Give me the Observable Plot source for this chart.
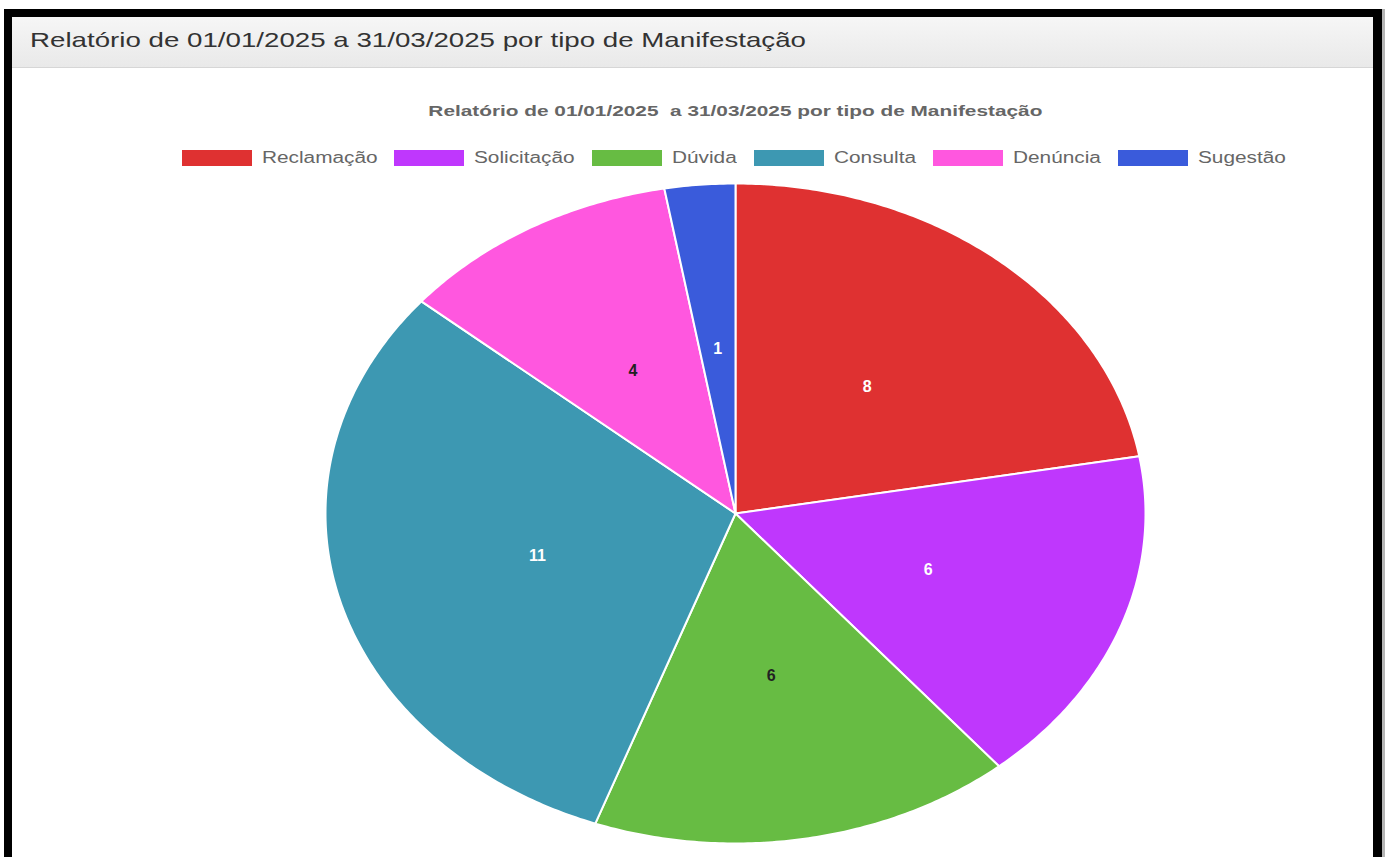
<!DOCTYPE html>
<html><head><meta charset="utf-8">
<script src="https://cdn.jsdelivr.net/npm/d3@7"></script>
<script src="https://cdn.jsdelivr.net/npm/@observablehq/plot@0.6"></script>
<style>
html,body{margin:0;padding:0;}
body{width:1385px;height:857px;overflow:hidden;position:relative;background:#fff;font-family:"Liberation Sans",Arial,Helvetica,sans-serif;}
#blk{position:absolute;left:4px;top:9px;width:1378px;height:900px;background:#000;}
#edge{position:absolute;left:1382px;top:9px;width:3px;height:900px;background:#b5b5b5;}
#inner{position:absolute;left:12px;top:17px;width:1361px;height:900px;background:#fff;}
#head{position:absolute;left:12px;top:17px;width:1361px;height:50px;background:linear-gradient(#f6f6f6,#e9e9e9);border-bottom:1px solid #d6d6d6;}
#headtxt{position:absolute;left:30px;top:27px;font-size:21px;color:#333;white-space:nowrap;transform-origin:0 50%;line-height:26px;}
#title{position:absolute;left:0;width:1470px;top:101px;text-align:center;font-size:15px;font-weight:bold;color:#666;white-space:pre;line-height:20px;}
#title span{display:inline-block;transform-origin:50% 50%;}
#legend{position:absolute;left:0;width:1467px;top:149px;display:flex;justify-content:center;align-items:center;font-size:16px;color:#666;}
.item{display:flex;align-items:center;margin-right:17px;}
.item:last-child{margin-right:0;}
.box{width:70px;height:16px;margin-right:10px;box-sizing:border-box;}
.wrap{display:inline-block;overflow:visible;white-space:nowrap;}
.lab{display:inline-block;white-space:nowrap;transform-origin:0 50%;}
#chart{position:absolute;left:12px;top:175px;}
</style></head>
<body>
<div id="blk"></div><div id="edge"></div><div id="inner"></div>
<div id="head"><div></div></div>
<div id="headtxt">Relatório de 01/01/2025 a 31/03/2025 por tipo de Manifestação</div>
<div id="title"><span>Relatório de 01/01/2025  a 31/03/2025 por tipo de Manifestação</span></div>
<div id="legend"></div>
<div id="chart"></div>
<script>
const categories = ["Reclamação", "Solicitação", "Dúvida", "Consulta", "Denúncia", "Sugestão"];
const counts = [8, 6, 6, 11, 4, 1];
const colors = ["#df3131", "#bf37fd", "#67bc43", "#3d98b2", "#ff57df", "#3a5bdb"];
const darkLabel = ["Dúvida", "Denúncia"];

const data = categories.map((name, i) => ({name, value: counts[i]}));
const arcs = d3.pie().sort(null).value(d => d.value)(data);

// slice outlines in unit-circle coordinates (angle 0 at top, clockwise)
const slicePoints = [];
for (const a of arcs) {
  const n = Math.max(2, Math.ceil((a.endAngle - a.startAngle) / 0.01));
  slicePoints.push({name: a.data.name, x: 0, y: 0});
  for (let k = 0; k <= n; k++) {
    const t = a.startAngle + (a.endAngle - a.startAngle) * k / n;
    slicePoints.push({name: a.data.name, x: Math.sin(t), y: Math.cos(t)});
  }
  slicePoints.push({name: a.data.name, x: 0, y: 0});
}
const labels = arcs.map(a => {
  const m = (a.startAngle + a.endAngle) / 2;
  return {name: a.data.name, value: a.data.value, x: 0.5 * Math.sin(m), y: 0.5 * Math.cos(m)};
});

// legend
const leg = document.getElementById("legend");
const labEls = [];
categories.forEach((c, i) => {
  const it = document.createElement("div"); it.className = "item";
  const b = document.createElement("div"); b.className = "box"; b.style.background = colors[i];
  const w = document.createElement("span"); w.className = "wrap";
  const l = document.createElement("span"); l.className = "lab"; l.textContent = c;
  w.appendChild(l);
  it.appendChild(b); it.appendChild(w); leg.appendChild(it);
  labEls.push([w, l]);
});
const S = 1.3;
for (const [w, l] of labEls) {
  const lw = l.getBoundingClientRect().width;
  w.style.width = (lw * S) + "px";
  l.style.transform = `scaleX(${S})`;
}

const W = 1361, H = 682;
const plot = Plot.plot({
  width: W, height: H,
  marginLeft: 313, marginRight: 228, marginTop: 8, marginBottom: 14,
  x: {domain: [-1, 1], axis: null},
  y: {domain: [-1, 1], axis: null},
  color: {domain: categories, range: colors},
  style: {fontFamily: '"Liberation Sans", Arial, sans-serif', background: "transparent"},
  marks: [
    Plot.line(slicePoints, {x: "x", y: "y", z: "name", fill: "name", stroke: "white", strokeWidth: 2, strokeLinejoin: "round", curve: "linear"}),
    Plot.text(labels.filter(d => !darkLabel.includes(d.name)), {x: "x", y: "y", text: d => String(d.value), fill: "white", fontWeight: "bold", fontSize: 16}),
    Plot.text(labels.filter(d => darkLabel.includes(d.name)), {x: "x", y: "y", text: d => String(d.value), fill: "#222", fontWeight: "bold", fontSize: 16})
  ]
});
document.getElementById("chart").appendChild(plot);

// horizontal stretch like the reference screenshot
function fit(el, target) {
  const w = el.getBoundingClientRect().width;
  el.style.transform = `scaleX(${target / w})`;
}
fit(document.getElementById("headtxt"), 776);
fit(document.querySelector("#title span"), 614);
</script>
</body></html>
